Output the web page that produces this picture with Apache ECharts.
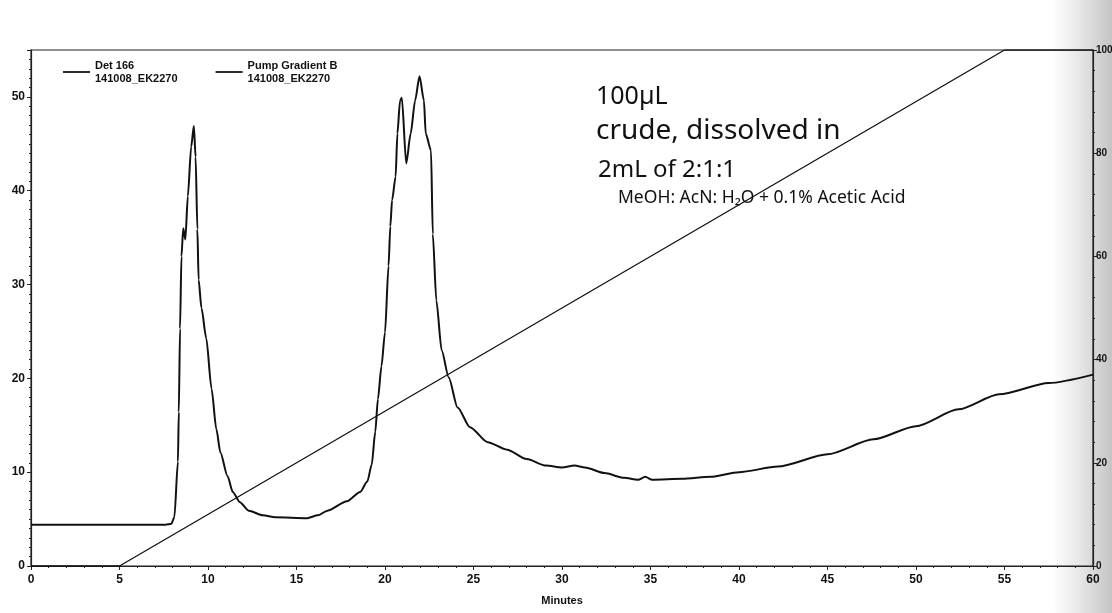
<!DOCTYPE html>
<html>
<head>
<meta charset="utf-8">
<script src="https://cdn.jsdelivr.net/npm/echarts@6/dist/echarts.min.js"></script>
<style>
  html, body { margin: 0; padding: 0; background: #ffffff; }
  #chart { width: 1112px; height: 613px; }
</style>
</head>
<body>
<div id="chart"></div>
<script>
// ---- Data ----
const detName = 'Det 166\n141008_EK2270';
const pumpName = 'Pump Gradient B\n141008_EK2270';

// Detector trace: minutes / signal
const detMinutes = [0, 2, 4, 6, 7.6, 7.93, 8.1, 8.3, 8.35, 8.42, 8.5, 8.6, 8.72, 8.86, 9.05, 9.2, 9.3, 9.4, 9.47, 9.63, 9.9, 10.2, 10.47, 10.7, 11.1, 11.4, 11.8, 12.3, 13.1, 13.8, 15.6, 16.2, 16.75, 17.85, 18.6, 19.0, 19.25, 19.45, 19.6, 19.8, 20.0, 20.2, 20.3, 20.4, 20.6, 20.7, 20.85, 20.95, 21.2, 21.45, 21.7, 21.95, 22.2, 22.3, 22.6, 22.7, 22.9, 23.2, 23.6, 24.1, 24.8, 25.8, 26.9, 28.0, 29.1, 30.0, 30.7, 31.3, 32.4, 33.5, 34.3, 34.7, 35.1, 36.8, 38.4, 40.0, 42.2, 45.0, 47.6, 50.0, 52.4, 54.7, 57.5, 60.0];
const detSignal  = [4.4, 4.4, 4.4, 4.4, 4.4, 4.5, 5.2, 11.1, 16.4, 25.3, 33.0, 36.0, 34.8, 39.4, 44.7, 46.9, 43.6, 35.9, 30.5, 27.5, 24.3, 18.9, 14.6, 12.1, 9.6, 7.9, 6.8, 5.9, 5.4, 5.2, 5.1, 5.4, 5.9, 6.9, 7.9, 9.0, 10.8, 14.3, 17.8, 21.3, 24.9, 32.0, 36.2, 39.0, 41.5, 46.1, 49.6, 49.9, 42.9, 46.1, 49.6, 52.2, 49.6, 46.1, 44.3, 35.4, 28.3, 23.0, 20.1, 16.9, 14.8, 13.2, 12.4, 11.4, 10.7, 10.5, 10.7, 10.5, 9.9, 9.4, 9.2, 9.5, 9.2, 9.3, 9.5, 10.0, 10.6, 11.9, 13.5, 14.9, 16.7, 18.3, 19.5, 20.4];

// Pump gradient B: minutes / percent B
const pumpMinutes = [0, 5, 55, 60];
const pumpPercent = [0, 0, 100, 100];

// Axis ticks
const xTicks = [0, 5, 10, 15, 20, 25, 30, 35, 40, 45, 50, 55, 60];
const leftTicks = [0, 10, 20, 30, 40, 50];
const rightTicks = [0, 20, 40, 60, 80, 100];

// Handwritten notes
const notes = ['100\u00b5L', 'crude, dissolved in', '2mL of 2:1:1', 'MeOH: AcN: H\u2082O + 0.1% Acetic Acid'];

// ---- Build chart ----
const detData = detMinutes.map((m, i) => [m, detSignal[i]]);
const pumpData = pumpMinutes.map((m, i) => [m, pumpPercent[i]]);

const boldFont = { fontFamily: 'Liberation Sans, Arial, sans-serif', fontWeight: 'bold', color: '#111' };

const chart = echarts.init(document.getElementById('chart'), null, { renderer: 'canvas' });
chart.setOption({
  animation: false,
  backgroundColor: '#ffffff',
  grid: { left: 31, right: 19, top: 50, bottom: 47, containLabel: false, outerBoundsMode: 'none',
          show: true, borderColor: '#222', borderWidth: 1.2, backgroundColor: 'transparent' },
  legend: {
    left: 58, top: 54,
    icon: 'rect', itemWidth: 27, itemHeight: 1.8, itemGap: 38,
    textStyle: Object.assign({ fontSize: 11, lineHeight: 13 }, boldFont),
    data: [detName, pumpName]
  },
  xAxis: {
    type: 'value', min: xTicks[0], max: xTicks[xTicks.length - 1], interval: 5,
    name: 'Minutes', nameLocation: 'middle', nameGap: 29,
    nameTextStyle: Object.assign({ fontSize: 11 }, boldFont),
    axisLine: { lineStyle: { color: '#222', width: 1.2 } },
    axisTick: { length: 4, lineStyle: { color: '#222' } },
    minorTick: { show: true, splitNumber: 5, length: 2, lineStyle: { color: '#222' } },
    axisLabel: Object.assign({ fontSize: 12, margin: 8 }, boldFont),
    splitLine: { show: false }
  },
  yAxis: [
    {
      type: 'value', min: 0, max: 55, interval: 10, position: 'left',
      axisLine: { show: true, lineStyle: { color: '#222', width: 1.2 } },
      axisTick: { show: true, length: 4, lineStyle: { color: '#222' } },
      minorTick: { show: true, splitNumber: 10, length: 2, lineStyle: { color: '#222' } },
      axisLabel: Object.assign({ fontSize: 12, margin: 6, formatter: v => leftTicks.includes(v) ? String(v) : '' }, boldFont),
      splitLine: { show: false }
    },
    {
      type: 'value', min: 0, max: 100, interval: 20, position: 'right',
      axisLine: { show: true, lineStyle: { color: '#222', width: 1.2 } },
      axisTick: { show: true, length: 4, lineStyle: { color: '#222' } },
      minorTick: { show: true, splitNumber: 5, length: 2, lineStyle: { color: '#222' } },
      axisLabel: Object.assign({ fontSize: 10, margin: 3, formatter: v => rightTicks.includes(v) ? String(v) : '' }, boldFont),
      splitLine: { show: false }
    }
  ],
  series: [
    {
      name: detName, type: 'line', yAxisIndex: 0, data: detData,
      symbol: 'none', smooth: 0.25, smoothMonotone: 'x',
      lineStyle: { color: '#111', width: 2 }, itemStyle: { color: '#111' }
    },
    {
      name: pumpName, type: 'line', yAxisIndex: 1, data: pumpData,
      symbol: 'none',
      lineStyle: { color: '#111', width: 1.3 }, itemStyle: { color: '#111' }
    }
  ],
  graphic: [
    { type: 'text', left: 596, top: 84, style: { text: notes[0], font: '25px "Noto Sans"', fill: '#111' } },
    { type: 'text', left: 596, top: 117, style: { text: notes[1], font: '28px "Noto Sans"', fill: '#111' } },
    { type: 'text', left: 598, top: 158, style: { text: notes[2], font: '24px "Noto Sans"', fill: '#111' } },
    { type: 'text', left: 618, top: 189, style: { text: notes[3], font: '17.5px "Noto Sans"', fill: '#111' } },
    {
      type: 'rect', right: 0, top: 0, z: -1,
      shape: { width: 60, height: 613 },
      style: { fill: new echarts.graphic.LinearGradient(0, 0, 1, 0, [
        { offset: 0, color: 'rgba(200,200,200,0)' },
        { offset: 1, color: 'rgba(190,190,190,0.9)' }
      ]) }
    }
  ]
});
</script>
</body>
</html>
